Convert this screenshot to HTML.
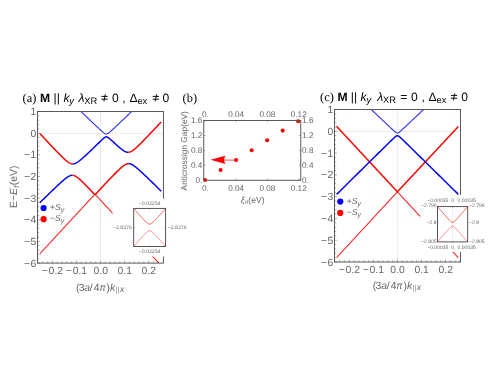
<!DOCTYPE html>
<html><head><meta charset="utf-8"><title>figure</title>
<style>html,body{margin:0;padding:0;background:#fff;}svg{display:block;will-change:transform;}text{white-space:pre;text-rendering:geometricPrecision;}</style>
</head><body>
<svg width="491" height="382" viewBox="0 0 491 382">
<rect width="491" height="382" fill="#fff"/>
<defs>
<clipPath id="clipa"><rect x="37.5" y="111.5" width="125.95" height="151.6"/></clipPath>
<clipPath id="clipc"><rect x="334.5" y="109.5" width="126" height="152.5"/></clipPath>
</defs>
<line x1="37.5" y1="133.5" x2="163.45" y2="133.5" stroke="#e2e2e2" stroke-width="0.7"/>
<line x1="100.5" y1="111.5" x2="100.5" y2="263.1" stroke="#e2e2e2" stroke-width="0.7"/>
<g clip-path="url(#clipa)">
<path d="M78.27 108.97 L78.77 109.45 L79.27 109.93 L79.77 110.4 L80.27 110.88 L80.77 111.35 L81.27 111.83 L81.77 112.31 L82.27 112.78 L82.76 113.26 L83.26 113.73 L83.76 114.21 L84.26 114.68 L84.76 115.16 L85.26 115.64 L85.76 116.11 L86.26 116.59 L86.76 117.06 L87.26 117.54 L87.76 118.01 L88.26 118.49 L88.76 118.96 L89.26 119.43 L89.76 119.91 L90.26 120.38 L90.76 120.86 L91.26 121.33 L91.76 121.8 L92.26 122.28 L92.76 122.75 L93.26 123.22 L93.76 123.7 L94.26 124.17 L94.75 124.64 L95.25 125.11 L95.75 125.58 L96.25 126.05 L96.75 126.52 L97.25 126.99 L97.75 127.46 L98.25 127.92 L98.75 128.39 L99.25 128.85 L99.75 129.31 L100.25 129.77 L100.75 130.23 L101.25 130.68 L101.75 131.12 L102.25 131.56 L102.75 131.99 L103.25 132.41 L103.75 132.81 L104.25 133.19 L104.75 133.52 L105.25 133.8 L105.75 134 L106.25 134.07 L106.74 134.02 L107.24 133.85 L107.74 133.59 L108.24 133.27 L108.74 132.9 L109.24 132.5 L109.74 132.09 L110.24 131.66 L110.74 131.22 L111.24 130.78 L111.74 130.33 L112.24 129.87 L112.74 129.41 L113.24 128.95 L113.74 128.49 L114.24 128.02 L114.74 127.56 L115.24 127.09 L115.74 126.62 L116.24 126.15 L116.74 125.68 L117.24 125.21 L117.74 124.74 L118.24 124.27 L118.73 123.8 L119.23 123.33 L119.73 122.85 L120.23 122.38 L120.73 121.91 L121.23 121.44 L121.73 120.96 L122.23 120.49 L122.73 120.01 L123.23 119.54 L123.73 119.06 L124.23 118.59 L124.73 118.11 L125.23 117.64 L125.73 117.17 L126.23 116.69 L126.73 116.21 L127.23 115.74 L127.73 115.26 L128.23 114.79 L128.73 114.31 L129.23 113.84 L129.73 113.36 L130.23 112.89 L130.73 112.41 L131.22 111.93 L131.72 111.46 L132.22 110.98 L132.72 110.51 L133.22 110.03 L133.72 109.55 L134.22 109.08 L134.72 108.6" fill="none" stroke="#0000ff" stroke-width="1.08" stroke-linejoin="round" stroke-linecap="butt" opacity="0.84"/>
<path d="M39.8 253.82 L40.3 253.28 L40.8 252.74 L41.3 252.2 L41.8 251.66 L42.3 251.12 L42.8 250.58 L43.3 250.04 L43.8 249.5 L44.3 248.96 L44.8 248.42 L45.3 247.88 L45.8 247.34 L46.29 246.8 L46.79 246.26 L47.29 245.72 L47.79 245.18 L48.29 244.64 L48.79 244.1 L49.29 243.56 L49.79 243.02 L50.29 242.49 L50.79 241.95 L51.29 241.41 L51.79 240.87 L52.29 240.33 L52.79 239.79 L53.29 239.25 L53.79 238.71 L54.29 238.17 L54.79 237.63 L55.29 237.09 L55.79 236.55 L56.29 236.01 L56.79 235.47 L57.29 234.93 L57.79 234.39 L58.28 233.85 L58.78 233.31 L59.28 232.77 L59.78 232.23 L60.28 231.69 L60.78 231.15 L61.28 230.62 L61.78 230.08 L62.28 229.54 L62.78 229 L63.28 228.46 L63.78 227.92 L64.28 227.38 L64.78 226.84 L65.28 226.3 L65.78 225.76 L66.28 225.22 L66.78 224.68 L67.28 224.14 L67.78 223.6 L68.28 223.06 L68.78 222.52 L69.28 221.98 L69.78 221.44 L70.27 220.9 L70.77 220.36 L71.27 219.82 L71.77 219.28 L72.27 218.74 L72.77 218.21 L73.27 217.67 L73.77 217.13 L74.27 216.59 L74.77 216.05 L75.27 215.51 L75.77 214.97 L76.27 214.43 L76.77 213.89 L77.27 213.35 L77.77 212.81 L78.27 212.27 L78.77 211.73 L79.27 211.19 L79.77 210.65 L80.27 210.11 L80.77 209.57 L81.27 209.03 L81.77 208.49 L82.27 207.95 L82.76 207.41 L83.26 206.87 L83.76 206.34 L84.26 205.8 L84.76 205.26 L85.26 204.72 L85.76 204.18 L86.26 203.64 L86.76 203.1 L87.26 202.56 L87.76 202.02 L88.26 201.48 L88.76 200.94 L89.26 200.4 L89.76 199.86 L90.26 199.32 L90.76 198.78 L91.26 198.24 L91.76 197.7 L92.26 197.16 L92.76 196.62 L93.26 196.08 L93.76 195.54 L94.26 195 L94.75 194.46 L95 194.2 L95.25 194.47 L95.75 195.01 L96.25 195.55 L96.75 196.09 L97.25 196.63 L97.75 197.17 L98.25 197.71 L98.75 198.25 L99.25 198.79 L99.75 199.33 L100.25 199.87 L100.75 200.41 L101.25 200.95 L101.75 201.49 L102.25 202.03 L102.75 202.57 L103.25 203.11 L103.75 203.65 L104.25 204.19 L104.75 204.73 L105.25 205.27 L105.75 205.81 L106.25 206.34 L106.74 206.88 L107.24 207.42 L107.74 207.96 L108.24 208.5 L108.74 209.04 L109.24 209.58 L109.74 210.12 L110.24 210.66 L110.74 211.2 L111.24 211.74 L111.74 212.28 L112.24 212.82 L112.74 213.36 L113.24 213.9 L113.74 214.44 L114.24 214.98 L114.74 215.52 L115.24 216.06 L115.74 216.6 L116.24 217.14 L116.74 217.68 L117.24 218.22 L117.74 218.75 L118.24 219.29 L118.73 219.83 L119.23 220.37 L119.73 220.91 L120.23 221.45 L120.73 221.99 L121.23 222.53 L121.73 223.07 L122.23 223.61 L122.73 224.15 L123.23 224.69 L123.73 225.23 L124.23 225.77 L124.73 226.31 L125.23 226.85 L125.73 227.39 L126.23 227.93 L126.73 228.47 L127.23 229.01 L127.73 229.55 L128.23 230.09 L128.73 230.62 L129.23 231.16 L129.73 231.7 L130.23 232.24 L130.73 232.78 L131.22 233.32 L131.72 233.86 L132.22 234.4 L132.72 234.94 L133.22 235.48 L133.72 236.02 L134.22 236.56 L134.72 237.1 L135.22 237.64 L135.72 238.18 L136.22 238.72 L136.72 239.26 L137.22 239.8 L137.72 240.34 L138.22 240.88 L138.72 241.42 L139.22 241.96 L139.72 242.5 L140.22 243.03 L140.72 243.57 L141.22 244.11 L141.72 244.65 L142.22 245.19 L142.72 245.73 L143.21 246.27 L143.71 246.81 L144.21 247.35 L144.71 247.89 L145.21 248.43 L145.71 248.97 L146.21 249.51 L146.71 250.05 L147.21 250.59 L147.71 251.13 L148.21 251.67 L148.71 252.21 L149.21 252.75 L149.71 253.29 L150.21 253.83 L150.71 254.37 L151.21 254.9 L151.71 255.44 L152.21 255.98 L152.71 256.52 L153.21 257.06 L153.71 257.6 L154.21 258.14 L154.71 258.68 L155.2 259.22 L155.7 259.76 L156.2 260.3 L156.7 260.84 L157.2 261.38 L157.7 261.92 L158.2 262.46 L158.7 263 L159.2 263.54 L159.7 264.08 L160.2 264.62 L160.7 265.16 L161.2 265.7" fill="none" stroke="#ff0000" stroke-width="1.05" stroke-linejoin="round" stroke-linecap="butt" opacity="0.88"/>
<path d="M39.8 202.79 L40.3 202.29 L40.8 201.8 L41.3 201.31 L41.8 200.82 L42.3 200.33 L42.8 199.84 L43.3 199.34 L43.8 198.85 L44.3 198.36 L44.8 197.87 L45.3 197.38 L45.8 196.89 L46.29 196.41 L46.79 195.92 L47.29 195.43 L47.79 194.94 L48.29 194.45 L48.79 193.97 L49.29 193.48 L49.79 193 L50.29 192.51 L50.79 192.03 L51.29 191.54 L51.79 191.06 L52.29 190.58 L52.79 190.1 L53.29 189.62 L53.79 189.14 L54.29 188.66 L54.79 188.18 L55.29 187.71 L55.79 187.23 L56.29 186.76 L56.79 186.29 L57.29 185.82 L57.79 185.35 L58.28 184.88 L58.78 184.42 L59.28 183.96 L59.78 183.5 L60.28 183.04 L60.78 182.59 L61.28 182.14 L61.78 181.69 L62.28 181.25 L62.78 180.82 L63.28 180.38 L63.78 179.96 L64.28 179.54 L64.78 179.13 L65.28 178.73 L65.78 178.34 L66.28 177.96 L66.78 177.6 L67.28 177.25 L67.78 176.92 L68.28 176.61 L68.78 176.32 L69.28 176.06 L69.78 175.83 L70.27 175.64 L70.77 175.48 L71.27 175.37 L71.77 175.29 L72.27 175.27 L72.52 175.28" fill="none" stroke="#0000ff" stroke-width="1.48" stroke-linejoin="round" stroke-linecap="butt" />
<path d="M72.52 175.28 L72.77 175.29 L73.27 175.37 L73.77 175.49 L74.27 175.65 L74.77 175.85 L75.27 176.1 L75.77 176.38 L76.27 176.68 L76.77 177.02 L77.27 177.38 L77.77 177.75 L78.27 178.15 L78.77 178.56 L79.27 178.99 L79.77 179.42 L80.27 179.87 L80.77 180.33 L81.27 180.79 L81.77 181.26 L82.27 181.74 L82.76 182.23 L83.26 182.71 L83.76 183.21 L84.26 183.7 L84.76 184.2 L85.26 184.71 L85.76 185.21 L86.26 185.72 L86.76 186.23 L87.26 186.74 L87.76 187.26 L88.26 187.78 L88.76 188.29 L89.26 188.81 L89.76 189.34 L90.26 189.86 L90.76 190.38 L91.26 190.91 L91.76 191.43 L92.26 191.96 L92.76 192.49 L93.26 193.02 L93.76 193.55 L94.26 194.08 L94.75 194.61 L95 194.2 L95.25 194.59 L95.75 194.05 L96.25 193.51 L96.75 192.97 L97.25 192.43 L97.75 191.89 L98.25 191.35 L98.75 190.81 L99.25 190.26 L99.75 189.72 L100.25 189.18 L100.75 188.64 L101.25 188.1 L101.75 187.56 L102.25 187.02 L102.75 186.48 L103.25 185.94 L103.75 185.4 L104.25 184.86 L104.75 184.32 L105.25 183.78 L105.75 183.24 L106.25 182.71 L106.74 182.17 L107.24 181.64 L107.74 181.11 L108.24 180.59 L108.74 180.06 L109.24 179.54 L109.74 179.02 L110.24 178.49 L110.74 177.97 L111.24 177.45 L111.74 176.94 L112.24 176.42 L112.74 175.91 L113.24 175.39 L113.74 174.88 L114.24 174.37 L114.74 173.87 L115.24 173.36 L115.74 172.86 L116.24 172.36 L116.74 171.87 L117.24 171.38 L117.74 170.89 L118.24 170.41 L118.73 169.93 L119.23 169.45 L119.73 168.99 L120.23 168.53 L120.73 168.08 L121.23 167.64 L121.73 167.21 L122.23 166.79 L122.73 166.38 L123.23 165.99 L123.73 165.62 L124.23 165.27 L124.73 164.94 L125.23 164.65 L125.73 164.38 L126.23 164.14 L126.73 163.95 L127.23 163.8 L127.73 163.69 L128.23 163.62 L128.4 163.61" fill="none" stroke="#ff0000" stroke-width="1.48" stroke-linejoin="round" stroke-linecap="butt" />
<path d="M128.4 163.61 L128.73 163.61 L129.23 163.64 L129.73 163.72 L130.23 163.85 L130.73 164.01 L131.22 164.21 L131.72 164.45 L132.22 164.71 L132.72 165 L133.22 165.31 L133.72 165.65 L134.22 166 L134.72 166.37 L135.22 166.75 L135.72 167.14 L136.22 167.54 L136.72 167.95 L137.22 168.37 L137.72 168.79 L138.22 169.22 L138.72 169.66 L139.22 170.1 L139.72 170.55 L140.22 171 L140.72 171.45 L141.22 171.91 L141.72 172.36 L142.22 172.83 L142.72 173.29 L143.21 173.76 L143.71 174.23 L144.21 174.7 L144.71 175.17 L145.21 175.64 L145.71 176.11 L146.21 176.59 L146.71 177.07 L147.21 177.55 L147.71 178.03 L148.21 178.51 L148.71 178.99 L149.21 179.47 L149.71 179.95 L150.21 180.43 L150.71 180.92 L151.21 181.4 L151.71 181.89 L152.21 182.38 L152.71 182.86 L153.21 183.35 L153.71 183.84 L154.21 184.32 L154.71 184.81 L155.2 185.3 L155.7 185.79 L156.2 186.28 L156.7 186.77 L157.2 187.26 L157.7 187.75 L158.2 188.24 L158.7 188.73 L159.2 189.22 L159.7 189.71 L160.2 190.21 L160.7 190.7 L161.2 191.19" fill="none" stroke="#0000ff" stroke-width="1.48" stroke-linejoin="round" stroke-linecap="butt" />
<path d="M39.8 133.4 L40.3 133.94 L40.8 134.48 L41.3 135.02 L41.8 135.56 L42.3 136.1 L42.8 136.63 L43.3 137.17 L43.8 137.71 L44.3 138.25 L44.8 138.78 L45.3 139.32 L45.8 139.85 L46.29 140.39 L46.79 140.92 L47.29 141.46 L47.79 141.99 L48.29 142.53 L48.79 143.06 L49.29 143.59 L49.79 144.13 L50.29 144.66 L50.79 145.19 L51.29 145.72 L51.79 146.25 L52.29 146.78 L52.79 147.3 L53.29 147.83 L53.79 148.36 L54.29 148.88 L54.79 149.41 L55.29 149.93 L55.79 150.45 L56.29 150.97 L56.79 151.49 L57.29 152.01 L57.79 152.52 L58.28 153.03 L58.78 153.55 L59.28 154.05 L59.78 154.56 L60.28 155.06 L60.78 155.56 L61.28 156.06 L61.78 156.55 L62.28 157.04 L62.78 157.52 L63.28 158 L63.78 158.47 L64.28 158.94 L64.78 159.39 L65.28 159.84 L65.78 160.28 L66.28 160.7 L66.78 161.11 L67.28 161.51 L67.78 161.89 L68.28 162.24 L68.78 162.58 L69.28 162.88 L69.78 163.16 L70.27 163.4 L70.77 163.61 L71.27 163.77 L71.77 163.89 L72.27 163.96 L72.52 163.98" fill="none" stroke="#ff0000" stroke-width="1.48" stroke-linejoin="round" stroke-linecap="butt" />
<path d="M72.52 163.98 L72.77 163.98 L73.27 163.96 L73.77 163.89 L74.27 163.77 L74.77 163.61 L75.27 163.42 L75.77 163.19 L76.27 162.92 L76.77 162.64 L77.27 162.33 L77.77 162 L78.27 161.65 L78.77 161.28 L79.27 160.9 L79.77 160.52 L80.27 160.12 L80.77 159.71 L81.27 159.29 L81.77 158.87 L82.27 158.44 L82.76 158 L83.26 157.56 L83.76 157.12 L84.26 156.67 L84.76 156.21 L85.26 155.76 L85.76 155.3 L86.26 154.84 L86.76 154.38 L87.26 153.91 L87.76 153.45 L88.26 152.98 L88.76 152.51 L89.26 152.04 L89.76 151.57 L90.26 151.09 L90.76 150.62 L91.26 150.14 L91.76 149.67 L92.26 149.19 L92.76 148.71 L93.26 148.23 L93.76 147.75 L94.26 147.28 L94.75 146.8 L95.25 146.31 L95.75 145.82 L96.25 145.32 L96.75 144.83 L97.25 144.34 L97.75 143.85 L98.25 143.36 L98.75 142.87 L99.25 142.38 L99.75 141.9 L100.25 141.41 L100.75 140.93 L101.25 140.46 L101.75 139.99 L102.25 139.52 L102.75 139.07 L103.25 138.62 L103.75 138.19 L104.25 137.79 L104.75 137.43 L105.25 137.13 L105.75 136.91 L106.25 136.82 L106.74 136.87 L107.24 137.04 L107.74 137.31 L108.24 137.64 L108.74 138.02 L109.24 138.42 L109.74 138.84 L110.24 139.27 L110.74 139.71 L111.24 140.16 L111.74 140.61 L112.24 141.06 L112.74 141.51 L113.24 141.97 L113.74 142.42 L114.24 142.88 L114.74 143.33 L115.24 143.78 L115.74 144.23 L116.24 144.68 L116.74 145.13 L117.24 145.57 L117.74 146.01 L118.24 146.44 L118.73 146.87 L119.23 147.3 L119.73 147.72 L120.23 148.13 L120.73 148.54 L121.23 148.93 L121.73 149.32 L122.23 149.69 L122.73 150.05 L123.23 150.4 L123.73 150.72 L124.23 151.03 L124.73 151.31 L125.23 151.56 L125.73 151.79 L126.23 151.98 L126.73 152.13 L127.23 152.24 L127.73 152.3 L128.23 152.32 L128.4 152.31" fill="none" stroke="#0000ff" stroke-width="1.48" stroke-linejoin="round" stroke-linecap="butt" />
<path d="M128.4 152.31 L128.73 152.29 L129.23 152.21 L129.73 152.09 L130.23 151.92 L130.73 151.71 L131.22 151.47 L131.72 151.19 L132.22 150.88 L132.72 150.55 L133.22 150.19 L133.72 149.81 L134.22 149.42 L134.72 149.01 L135.22 148.59 L135.72 148.15 L136.22 147.71 L136.72 147.25 L137.22 146.79 L137.72 146.33 L138.22 145.85 L138.72 145.37 L139.22 144.89 L139.72 144.4 L140.22 143.9 L140.72 143.41 L141.22 142.91 L141.72 142.41 L142.22 141.9 L142.72 141.39 L143.21 140.89 L143.71 140.37 L144.21 139.86 L144.71 139.35 L145.21 138.83 L145.71 138.31 L146.21 137.79 L146.71 137.27 L147.21 136.75 L147.71 136.23 L148.21 135.71 L148.71 135.18 L149.21 134.66 L149.71 134.13 L150.21 133.61 L150.71 133.08 L151.21 132.55 L151.71 132.02 L152.21 131.49 L152.71 130.97 L153.21 130.44 L153.71 129.91 L154.21 129.37 L154.71 128.84 L155.2 128.31 L155.7 127.78 L156.2 127.25 L156.7 126.72 L157.2 126.18 L157.7 125.65 L158.2 125.12 L158.7 124.58 L159.2 124.05 L159.7 123.51 L160.2 122.98 L160.7 122.44 L161.2 121.91" fill="none" stroke="#ff0000" stroke-width="1.48" stroke-linejoin="round" stroke-linecap="butt" />
</g>
<rect x="37.5" y="111.5" width="125.95" height="151.6" fill="none" stroke="#585858" stroke-width="1.0"/>
<path d="M37.5 111.5h2.5M37.5 115.83h1.7M37.5 120.16h1.7M37.5 124.49h1.7M37.5 128.83h1.7M37.5 133.16h2.5M37.5 137.49h1.7M37.5 141.82h1.7M37.5 146.15h1.7M37.5 150.48h1.7M37.5 154.81h2.5M37.5 159.15h1.7M37.5 163.48h1.7M37.5 167.81h1.7M37.5 172.14h1.7M37.5 176.47h2.5M37.5 180.8h1.7M37.5 185.13h1.7M37.5 189.47h1.7M37.5 193.8h1.7M37.5 198.13h2.5M37.5 202.46h1.7M37.5 206.79h1.7M37.5 211.12h1.7M37.5 215.45h1.7M37.5 219.79h2.5M37.5 224.12h1.7M37.5 228.45h1.7M37.5 232.78h1.7M37.5 237.11h1.7M37.5 241.44h2.5M37.5 245.77h1.7M37.5 250.11h1.7M37.5 254.44h1.7M37.5 258.77h1.7M37.5 263.1h2.5M42.78 263.1v-1.7M47.59 263.1v-1.7M52.4 263.1v-2.5M57.21 263.1v-1.7M62.02 263.1v-1.7M66.83 263.1v-1.7M71.64 263.1v-1.7M76.45 263.1v-2.5M81.26 263.1v-1.7M86.07 263.1v-1.7M90.88 263.1v-1.7M95.69 263.1v-1.7M100.5 263.1v-2.5M105.31 263.1v-1.7M110.12 263.1v-1.7M114.93 263.1v-1.7M119.74 263.1v-1.7M124.55 263.1v-2.5M129.36 263.1v-1.7M134.17 263.1v-1.7M138.98 263.1v-1.7M143.79 263.1v-1.7M148.6 263.1v-2.5M153.41 263.1v-1.7M158.22 263.1v-1.7" stroke="#585858" stroke-width="0.5" fill="none"/>
<text x="36.2" y="115.1" font-size="10.4" text-anchor="end" fill="#666" font-family='"Liberation Sans", sans-serif' >1</text>
<text x="36.2" y="136.76" font-size="10.4" text-anchor="end" fill="#666" font-family='"Liberation Sans", sans-serif' >0</text>
<text x="36.2" y="158.41" font-size="10.4" text-anchor="end" fill="#666" font-family='"Liberation Sans", sans-serif' ><tspan letter-spacing="0.3">−</tspan>1</text>
<text x="36.2" y="180.07" font-size="10.4" text-anchor="end" fill="#666" font-family='"Liberation Sans", sans-serif' ><tspan letter-spacing="0.3">−</tspan>2</text>
<text x="36.2" y="201.73" font-size="10.4" text-anchor="end" fill="#666" font-family='"Liberation Sans", sans-serif' ><tspan letter-spacing="0.3">−</tspan>3</text>
<text x="36.2" y="223.39" font-size="10.4" text-anchor="end" fill="#666" font-family='"Liberation Sans", sans-serif' ><tspan letter-spacing="0.3">−</tspan>4</text>
<text x="36.2" y="245.04" font-size="10.4" text-anchor="end" fill="#666" font-family='"Liberation Sans", sans-serif' ><tspan letter-spacing="0.3">−</tspan>5</text>
<text x="36.2" y="266.7" font-size="10.4" text-anchor="end" fill="#666" font-family='"Liberation Sans", sans-serif' ><tspan letter-spacing="0.3">−</tspan>6</text>
<text x="52.4" y="274" font-size="10.4" text-anchor="middle" fill="#666" font-family='"Liberation Sans", sans-serif' ><tspan letter-spacing="0.8">−</tspan>0.2</text>
<text x="76.45" y="274" font-size="10.4" text-anchor="middle" fill="#666" font-family='"Liberation Sans", sans-serif' ><tspan letter-spacing="0.8">−</tspan>0.1</text>
<text x="100.7" y="274" font-size="10.4" text-anchor="middle" fill="#666" font-family='"Liberation Sans", sans-serif' >0.0</text>
<text x="124.75" y="274" font-size="10.4" text-anchor="middle" fill="#666" font-family='"Liberation Sans", sans-serif' >0.1</text>
<text x="148.8" y="274" font-size="10.4" text-anchor="middle" fill="#666" font-family='"Liberation Sans", sans-serif' >0.2</text>
<text x="75.9" y="291" font-size="10.4" text-anchor="start" fill="#666" font-family='"Liberation Sans", sans-serif' >(</text>
<text x="78.7" y="291" font-size="10.4" text-anchor="start" fill="#666" font-family='"Liberation Sans", sans-serif' >3</text>
<text x="84.25" y="291" font-size="10.4" text-anchor="start" fill="#666" font-family='"Liberation Sans", sans-serif' font-style="italic">a</text>
<text x="89.8" y="291" font-size="10.4" text-anchor="start" fill="#666" font-family='"Liberation Sans", sans-serif' >/</text>
<text x="93.8" y="291" font-size="10.4" text-anchor="start" fill="#666" font-family='"Liberation Sans", sans-serif' >4</text>
<text x="99.4" y="291" font-size="10.4" text-anchor="start" fill="#666" font-family='"Liberation Sans", sans-serif' font-style="italic" textLength="6.3" lengthAdjust="spacingAndGlyphs">π</text>
<text x="106.5" y="291" font-size="10.4" text-anchor="start" fill="#666" font-family='"Liberation Sans", sans-serif' >)</text>
<text x="110.1" y="291" font-size="10.4" text-anchor="start" fill="#666" font-family='"Liberation Sans", sans-serif' font-style="italic">k</text>
<text x="115.5" y="291.9" font-size="7.4" text-anchor="start" fill="#888" font-family='"Liberation Sans", sans-serif' >|</text>
<text x="117.5" y="291.9" font-size="7.4" text-anchor="start" fill="#888" font-family='"Liberation Sans", sans-serif' >|</text>
<text x="119.9" y="291.9" font-size="8.6" text-anchor="start" fill="#666" font-family='"Liberation Sans", sans-serif' font-style="italic">x</text>
<circle cx="43.6" cy="208" r="3.1" fill="#0000ff"/>
<circle cx="43.6" cy="219.2" r="3.1" fill="#ff0000"/>
<text x="50" y="210" font-size="8.6" fill="#666" font-family='"Liberation Sans", sans-serif'>+<tspan font-style="italic">S</tspan><tspan font-style="italic" font-size="6.9" dy="1.9">y</tspan></text>
<text x="50" y="221.2" font-size="8.6" fill="#666" font-family='"Liberation Sans", sans-serif'>−<tspan font-style="italic">S</tspan><tspan font-style="italic" font-size="6.9" dy="1.9">y</tspan></text>
<text transform="translate(17.3 208.0) rotate(-90)" font-size="10.4" fill="#666" font-family='"Liberation Sans", sans-serif'>E−<tspan font-style="italic">E</tspan><tspan font-style="italic" font-size="7.6" dy="1.6" dx="0.3">f</tspan><tspan dy="-1.6" dx="0.4">(eV)</tspan></text>
<rect x="112.6" y="198.8" width="77.4" height="57.7" fill="#fff"/>
<path d="M133.7 208.4 L134.1 208.86 L134.5 209.32 L134.9 209.78 L135.29 210.24 L135.69 210.7 L136.09 211.16 L136.49 211.62 L136.89 212.08 L137.29 212.54 L137.69 212.99 L138.09 213.45 L138.48 213.9 L138.88 214.36 L139.28 214.81 L139.68 215.26 L140.08 215.71 L140.48 216.16 L140.88 216.61 L141.28 217.05 L141.67 217.49 L142.07 217.93 L142.47 218.37 L142.87 218.8 L143.27 219.23 L143.67 219.66 L144.07 220.08 L144.47 220.5 L144.86 220.9 L145.26 221.3 L145.66 221.69 L146.06 222.06 L146.46 222.42 L146.86 222.76 L147.26 223.08 L147.66 223.36 L148.05 223.61 L148.45 223.82 L148.85 223.97 L149.25 224.07 L149.65 224.1 L150.05 224.07 L150.45 223.97 L150.85 223.82 L151.25 223.61 L151.64 223.36 L152.04 223.08 L152.44 222.76 L152.84 222.42 L153.24 222.06 L153.64 221.69 L154.04 221.3 L154.44 220.9 L154.83 220.5 L155.23 220.08 L155.63 219.66 L156.03 219.23 L156.43 218.8 L156.83 218.37 L157.23 217.93 L157.62 217.49 L158.02 217.05 L158.42 216.61 L158.82 216.16 L159.22 215.71 L159.62 215.26 L160.02 214.81 L160.42 214.36 L160.81 213.9 L161.21 213.45 L161.61 212.99 L162.01 212.54 L162.41 212.08 L162.81 211.62 L163.21 211.16 L163.61 210.7 L164 210.24 L164.4 209.78 L164.8 209.32 L165.2 208.86 L165.6 208.4" fill="none" stroke="#ff0000" stroke-width="0.85" stroke-linejoin="round" stroke-linecap="butt" opacity="0.8"/>
<path d="M133.7 246.5 L134.1 246.04 L134.5 245.58 L134.9 245.12 L135.29 244.66 L135.69 244.2 L136.09 243.74 L136.49 243.28 L136.89 242.82 L137.29 242.36 L137.69 241.91 L138.09 241.45 L138.48 241 L138.88 240.54 L139.28 240.09 L139.68 239.64 L140.08 239.19 L140.48 238.74 L140.88 238.29 L141.28 237.85 L141.67 237.41 L142.07 236.97 L142.47 236.53 L142.87 236.1 L143.27 235.67 L143.67 235.24 L144.07 234.82 L144.47 234.4 L144.86 234 L145.26 233.6 L145.66 233.21 L146.06 232.84 L146.46 232.48 L146.86 232.14 L147.26 231.82 L147.66 231.54 L148.05 231.29 L148.45 231.08 L148.85 230.93 L149.25 230.83 L149.65 230.8 L150.05 230.83 L150.45 230.93 L150.85 231.08 L151.25 231.29 L151.64 231.54 L152.04 231.82 L152.44 232.14 L152.84 232.48 L153.24 232.84 L153.64 233.21 L154.04 233.6 L154.44 234 L154.83 234.4 L155.23 234.82 L155.63 235.24 L156.03 235.67 L156.43 236.1 L156.83 236.53 L157.23 236.97 L157.62 237.41 L158.02 237.85 L158.42 238.29 L158.82 238.74 L159.22 239.19 L159.62 239.64 L160.02 240.09 L160.42 240.54 L160.81 241 L161.21 241.45 L161.61 241.91 L162.01 242.36 L162.41 242.82 L162.81 243.28 L163.21 243.74 L163.61 244.2 L164 244.66 L164.4 245.12 L164.8 245.58 L165.2 246.04 L165.6 246.5" fill="none" stroke="#ff0000" stroke-width="0.75" stroke-linejoin="round" stroke-linecap="butt" opacity="0.6"/>
<rect x="133.7" y="208.4" width="31.9" height="38.1" fill="none" stroke="#444" stroke-width="0.9"/>
<text x="149.6" y="205" font-size="5.2" text-anchor="middle" fill="#666" font-family='"Liberation Sans", sans-serif' >−0.02254</text>
<text x="149.6" y="253.1" font-size="5.2" text-anchor="middle" fill="#666" font-family='"Liberation Sans", sans-serif' >−0.02254</text>
<text x="131.9" y="228.8" font-size="5.2" text-anchor="end" fill="#666" font-family='"Liberation Sans", sans-serif' >−2.8276</text>
<text x="167.7" y="228.8" font-size="5.2" text-anchor="start" fill="#666" font-family='"Liberation Sans", sans-serif' >−2.8276</text>
<path d="M149.6 208.4l0 1M149.6 246.5l0 -1M133.7 227.45l1 0M165.6 227.45l-1 0" stroke="#444" stroke-width="0.5" fill="none"/>
<text x="22.6" y="102.3" font-size="12.4" text-anchor="start" fill="#000" font-family='"Liberation Serif", serif' >(a)</text>
<text x="40" y="102.3" font-size="12.1" text-anchor="start" fill="#000" font-family='"Liberation Sans", sans-serif' font-weight="bold">M</text>
<text x="53.6" y="102.3" font-size="12.1" text-anchor="start" fill="#000" font-family='"Liberation Sans", sans-serif' >||</text>
<text x="63.4" y="102.3" font-size="12.1" text-anchor="start" fill="#000" font-family='"Liberation Sans", sans-serif' font-style="italic">k</text>
<text x="69.2" y="103.9" font-size="9.317" text-anchor="start" fill="#000" font-family='"Liberation Sans", sans-serif' font-style="italic">y</text>
<text x="78.4" y="102.3" font-size="12.1" text-anchor="start" fill="#000" font-family='"Liberation Sans", sans-serif' font-style="italic">λ</text>
<text x="84.2" y="103.9" font-size="9.317" text-anchor="start" fill="#000" font-family='"Liberation Sans", sans-serif' >XR</text>
<path d="M101.4 96.4h6.3M101.4 99.2h6.3M105.3 94.3L103.9 101.3" stroke="#000" stroke-width="0.95" fill="none"/>
<text x="112" y="102.3" font-size="12.1" text-anchor="start" fill="#000" font-family='"Liberation Sans", sans-serif' >0</text>
<text x="122.2" y="102.3" font-size="12.1" text-anchor="start" fill="#000" font-family='"Liberation Sans", sans-serif' >,</text>
<text x="129.6" y="102.3" font-size="12.1" text-anchor="start" fill="#000" font-family='"Liberation Sans", sans-serif' >Δ</text>
<text x="137.4" y="103.9" font-size="9.317" text-anchor="start" fill="#000" font-family='"Liberation Sans", sans-serif' >ex</text>
<path d="M152.7 96.4h6.3M152.7 99.2h6.3M156.6 94.3L155.2 101.3" stroke="#000" stroke-width="0.95" fill="none"/>
<text x="162.6" y="102.3" font-size="12.1" text-anchor="start" fill="#000" font-family='"Liberation Sans", sans-serif' >0</text>
<line x1="334.5" y1="131.5" x2="460.5" y2="131.5" stroke="#e2e2e2" stroke-width="0.7"/>
<line x1="397.4" y1="109.5" x2="397.4" y2="262" stroke="#e2e2e2" stroke-width="0.7"/>
<g clip-path="url(#clipc)">
<path d="M368.15 106.53 L368.65 107.01 L369.15 107.48 L369.65 107.96 L370.16 108.43 L370.66 108.91 L371.16 109.39 L371.66 109.86 L372.16 110.34 L372.66 110.81 L373.16 111.29 L373.66 111.76 L374.16 112.24 L374.66 112.71 L375.16 113.19 L375.66 113.66 L376.17 114.13 L376.67 114.61 L377.17 115.08 L377.67 115.56 L378.17 116.03 L378.67 116.51 L379.17 116.98 L379.67 117.46 L380.17 117.93 L380.67 118.41 L381.17 118.88 L381.67 119.35 L382.17 119.83 L382.68 120.3 L383.18 120.78 L383.68 121.25 L384.18 121.72 L384.68 122.2 L385.18 122.67 L385.68 123.14 L386.18 123.61 L386.68 124.09 L387.18 124.56 L387.68 125.03 L388.18 125.5 L388.69 125.97 L389.19 126.44 L389.69 126.91 L390.19 127.38 L390.69 127.84 L391.19 128.31 L391.69 128.77 L392.19 129.23 L392.69 129.69 L393.19 130.15 L393.69 130.6 L394.19 131.04 L394.7 131.47 L395.2 131.89 L395.7 132.27 L396.2 132.62 L396.7 132.89 L397.2 133.04 L397.7 133.02 L398.2 132.84 L398.7 132.56 L399.2 132.2 L399.7 131.8 L400.2 131.39 L400.71 130.95 L401.21 130.51 L401.71 130.06 L402.21 129.6 L402.71 129.14 L403.21 128.68 L403.71 128.22 L404.21 127.75 L404.71 127.28 L405.21 126.81 L405.71 126.35 L406.21 125.88 L406.72 125.41 L407.22 124.93 L407.72 124.46 L408.22 123.99 L408.72 123.52 L409.22 123.05 L409.72 122.57 L410.22 122.1 L410.72 121.63 L411.22 121.15 L411.72 120.68 L412.22 120.21 L412.73 119.73 L413.23 119.26 L413.73 118.79 L414.23 118.31 L414.73 117.84 L415.23 117.36 L415.73 116.89 L416.23 116.41 L416.73 115.94 L417.23 115.46 L417.73 114.99 L418.23 114.51 L418.73 114.04 L419.24 113.57 L419.74 113.09 L420.24 112.62 L420.74 112.14 L421.24 111.67 L421.74 111.19 L422.24 110.72 L422.74 110.24 L423.24 109.77 L423.74 109.29 L424.24 108.82 L424.74 108.34 L425.25 107.86 L425.75 107.39 L426.25 106.91" fill="none" stroke="#0000ff" stroke-width="1.08" stroke-linejoin="round" stroke-linecap="butt" opacity="0.84"/>
<path d="M336.6 257.59 L337.1 257.04 L337.6 256.5 L338.1 255.96 L338.6 255.42 L339.1 254.88 L339.6 254.33 L340.11 253.79 L340.61 253.25 L341.11 252.71 L341.61 252.17 L342.11 251.62 L342.61 251.08 L343.11 250.54 L343.61 250 L344.11 249.46 L344.61 248.92 L345.11 248.37 L345.61 247.83 L346.12 247.29 L346.62 246.75 L347.12 246.21 L347.62 245.66 L348.12 245.12 L348.62 244.58 L349.12 244.04 L349.62 243.5 L350.12 242.95 L350.62 242.41 L351.12 241.87 L351.62 241.33 L352.13 240.79 L352.63 240.25 L353.13 239.7 L353.63 239.16 L354.13 238.62 L354.63 238.08 L355.13 237.54 L355.63 236.99 L356.13 236.45 L356.63 235.91 L357.13 235.37 L357.63 234.83 L358.14 234.28 L358.64 233.74 L359.14 233.2 L359.64 232.66 L360.14 232.12 L360.64 231.57 L361.14 231.03 L361.64 230.49 L362.14 229.95 L362.64 229.41 L363.14 228.87 L363.64 228.32 L364.15 227.78 L364.65 227.24 L365.15 226.7 L365.65 226.16 L366.15 225.61 L366.65 225.07 L367.15 224.53 L367.65 223.99 L368.15 223.45 L368.65 222.9 L369.15 222.36 L369.65 221.82 L370.16 221.28 L370.66 220.74 L371.16 220.2 L371.66 219.65 L372.16 219.11 L372.66 218.57 L373.16 218.03 L373.66 217.49 L374.16 216.94 L374.66 216.4 L375.16 215.86 L375.66 215.32 L376.17 214.78 L376.67 214.23 L377.17 213.69 L377.67 213.15 L378.17 212.61 L378.67 212.07 L379.17 211.52 L379.67 210.98 L380.17 210.44 L380.67 209.9 L381.17 209.36 L381.67 208.82 L382.17 208.27 L382.68 207.73 L383.18 207.19 L383.68 206.65 L384.18 206.11 L384.68 205.56 L385.18 205.02 L385.68 204.48 L386.18 203.94 L386.68 203.4 L387.18 202.85 L387.68 202.31 L388.18 201.77 L388.69 201.23 L389.19 200.69 L389.69 200.15 L390.19 199.6 L390.69 199.06 L391.19 198.52 L391.69 197.98 L392.19 197.44 L392.69 196.89 L393.19 196.35 L393.69 195.81 L394.19 195.27 L394.7 194.73 L395.2 194.18 L395.7 193.64 L396.2 193.1 L396.7 192.56 L397.2 192.02 L397.4 191.8 L397.7 192.13 L398.2 192.67 L398.7 193.21 L399.2 193.75 L399.7 194.29 L400.2 194.83 L400.71 195.38 L401.21 195.92 L401.71 196.46 L402.21 197 L402.71 197.54 L403.21 198.09 L403.71 198.63 L404.21 199.17 L404.71 199.71 L405.21 200.25 L405.71 200.8 L406.21 201.34 L406.72 201.88 L407.22 202.42 L407.72 202.96 L408.22 203.5 L408.72 204.05 L409.22 204.59 L409.72 205.13 L410.22 205.67 L410.72 206.21 L411.22 206.76 L411.72 207.3 L412.22 207.84 L412.73 208.38 L413.23 208.92 L413.73 209.47 L414.23 210.01 L414.73 210.55 L415.23 211.09 L415.73 211.63 L416.23 212.17 L416.73 212.72 L417.23 213.26 L417.73 213.8 L418.23 214.34 L418.73 214.88 L419.24 215.43 L419.74 215.97 L420.24 216.51 L420.74 217.05 L421.24 217.59 L421.74 218.14 L422.24 218.68 L422.74 219.22 L423.24 219.76 L423.74 220.3 L424.24 220.85 L424.74 221.39 L425.25 221.93 L425.75 222.47 L426.25 223.01 L426.75 223.55 L427.25 224.1 L427.75 224.64 L428.25 225.18 L428.75 225.72 L429.25 226.26 L429.75 226.81 L430.25 227.35 L430.75 227.89 L431.26 228.43 L431.76 228.97 L432.26 229.52 L432.76 230.06 L433.26 230.6 L433.76 231.14 L434.26 231.68 L434.76 232.22 L435.26 232.77 L435.76 233.31 L436.26 233.85 L436.76 234.39 L437.27 234.93 L437.77 235.48 L438.27 236.02 L438.77 236.56 L439.27 237.1 L439.77 237.64 L440.27 238.19 L440.77 238.73 L441.27 239.27 L441.77 239.81 L442.27 240.35 L442.77 240.9 L443.28 241.44 L443.78 241.98 L444.28 242.52 L444.78 243.06 L445.28 243.6 L445.78 244.15 L446.28 244.69 L446.78 245.23 L447.28 245.77 L447.78 246.31 L448.28 246.86 L448.78 247.4 L449.29 247.94 L449.79 248.48 L450.29 249.02 L450.79 249.57 L451.29 250.11 L451.79 250.65 L452.29 251.19 L452.79 251.73 L453.29 252.27 L453.79 252.82 L454.29 253.36 L454.79 253.9 L455.3 254.44 L455.8 254.98 L456.3 255.53 L456.8 256.07 L457.3 256.61 L457.8 257.15 L458.3 257.69" fill="none" stroke="#ff0000" stroke-width="1.05" stroke-linejoin="round" stroke-linecap="butt" opacity="0.88"/>
<path d="M336.6 126.32 L337.1 126.86 L337.6 127.4 L338.1 127.94 L338.6 128.48 L339.1 129.02 L339.6 129.55 L340.11 130.09 L340.61 130.63 L341.11 131.17 L341.61 131.71 L342.11 132.25 L342.61 132.79 L343.11 133.33 L343.61 133.87 L344.11 134.41 L344.61 134.95 L345.11 135.49 L345.61 136.03 L346.12 136.57 L346.62 137.11 L347.12 137.65 L347.62 138.18 L348.12 138.72 L348.62 139.26 L349.12 139.8 L349.62 140.34 L350.12 140.88 L350.62 141.42 L351.12 141.96 L351.62 142.5 L352.13 143.04 L352.63 143.58 L353.13 144.12 L353.63 144.66 L354.13 145.2 L354.63 145.74 L355.13 146.28 L355.63 146.82 L356.13 147.35 L356.63 147.89 L357.13 148.43 L357.63 148.97 L358.14 149.51 L358.64 150.05 L359.14 150.59 L359.64 151.13 L360.14 151.67 L360.64 152.21 L361.14 152.75 L361.64 153.29 L362.14 153.83 L362.64 154.37 L363.14 154.91 L363.64 155.45 L364.15 155.98 L364.65 156.52 L365.15 157.06 L365.65 157.6 L366.15 158.14 L366.65 158.68 L367.15 159.22 L367.65 159.76 L368.15 160.3 L368.65 160.84 L369.15 161.38 L369.65 161.92 L370.16 162.46 L370.66 163 L371.16 163.54 L371.66 164.08 L372.16 164.61 L372.66 165.15 L373.16 165.69 L373.66 166.23 L374.16 166.77 L374.66 167.31 L375.16 167.85 L375.66 168.39 L376.17 168.93 L376.67 169.47 L377.17 170.01 L377.67 170.55 L378.17 171.09 L378.67 171.63 L379.17 172.17 L379.67 172.71 L380.17 173.25 L380.67 173.78 L381.17 174.32 L381.67 174.86 L382.17 175.4 L382.68 175.94 L383.18 176.48 L383.68 177.02 L384.18 177.56 L384.68 178.1 L385.18 178.64 L385.68 179.18 L386.18 179.72 L386.68 180.26 L387.18 180.8 L387.68 181.34 L388.18 181.88 L388.69 182.41 L389.19 182.95 L389.69 183.49 L390.19 184.03 L390.69 184.57 L391.19 185.11 L391.69 185.65 L392.19 186.19 L392.69 186.73 L393.19 187.27 L393.69 187.81 L394.19 188.35 L394.7 188.89 L395.2 189.43 L395.7 189.97 L396.2 190.51 L396.7 191.04 L397.2 191.58 L397.4 191.8 L397.7 191.48 L398.2 190.94 L398.7 190.41 L399.2 189.87 L399.7 189.33 L400.2 188.8 L400.71 188.26 L401.21 187.72 L401.71 187.19 L402.21 186.65 L402.71 186.11 L403.21 185.58 L403.71 185.04 L404.21 184.51 L404.71 183.97 L405.21 183.43 L405.71 182.9 L406.21 182.36 L406.72 181.82 L407.22 181.29 L407.72 180.75 L408.22 180.21 L408.72 179.68 L409.22 179.14 L409.72 178.61 L410.22 178.07 L410.72 177.53 L411.22 177 L411.72 176.46 L412.22 175.92 L412.73 175.39 L413.23 174.85 L413.73 174.31 L414.23 173.78 L414.73 173.24 L415.23 172.7 L415.73 172.17 L416.23 171.63 L416.73 171.1 L417.23 170.56 L417.73 170.02 L418.23 169.49 L418.73 168.95 L419.24 168.41 L419.74 167.88 L420.24 167.34 L420.74 166.8 L421.24 166.27 L421.74 165.73 L422.24 165.2 L422.74 164.66 L423.24 164.12 L423.74 163.59 L424.24 163.05 L424.74 162.51 L425.25 161.98 L425.75 161.44 L426.25 160.9 L426.75 160.37 L427.25 159.83 L427.75 159.3 L428.25 158.76 L428.75 158.22 L429.25 157.69 L429.75 157.15 L430.25 156.61 L430.75 156.08 L431.26 155.54 L431.76 155 L432.26 154.47 L432.76 153.93 L433.26 153.4 L433.76 152.86 L434.26 152.32 L434.76 151.79 L435.26 151.25 L435.76 150.71 L436.26 150.18 L436.76 149.64 L437.27 149.1 L437.77 148.57 L438.27 148.03 L438.77 147.49 L439.27 146.96 L439.77 146.42 L440.27 145.89 L440.77 145.35 L441.27 144.81 L441.77 144.28 L442.27 143.74 L442.77 143.2 L443.28 142.67 L443.78 142.13 L444.28 141.59 L444.78 141.06 L445.28 140.52 L445.78 139.99 L446.28 139.45 L446.78 138.91 L447.28 138.38 L447.78 137.84 L448.28 137.3 L448.78 136.77 L449.29 136.23 L449.79 135.69 L450.29 135.16 L450.79 134.62 L451.29 134.09 L451.79 133.55 L452.29 133.01 L452.79 132.48 L453.29 131.94 L453.79 131.4 L454.29 130.87 L454.79 130.33 L455.3 129.79 L455.8 129.26 L456.3 128.72 L456.8 128.19 L457.3 127.65 L457.8 127.11 L458.3 126.58" fill="none" stroke="#ff0000" stroke-width="1.48" stroke-linejoin="round" stroke-linecap="butt" />
<path d="M336.6 194.37 L337.1 193.88 L337.6 193.39 L338.1 192.89 L338.6 192.4 L339.1 191.9 L339.6 191.41 L340.11 190.91 L340.61 190.42 L341.11 189.93 L341.61 189.43 L342.11 188.94 L342.61 188.44 L343.11 187.95 L343.61 187.46 L344.11 186.96 L344.61 186.47 L345.11 185.97 L345.61 185.48 L346.12 184.98 L346.62 184.49 L347.12 184 L347.62 183.5 L348.12 183.01 L348.62 182.51 L349.12 182.02 L349.62 181.53 L350.12 181.03 L350.62 180.54 L351.12 180.04 L351.62 179.55 L352.13 179.05 L352.63 178.56 L353.13 178.07 L353.63 177.57 L354.13 177.08 L354.63 176.58 L355.13 176.09 L355.63 175.6 L356.13 175.1 L356.63 174.61 L357.13 174.11 L357.63 173.62 L358.14 173.13 L358.64 172.63 L359.14 172.14 L359.64 171.64 L360.14 171.15 L360.64 170.66 L361.14 170.16 L361.64 169.67 L362.14 169.17 L362.64 168.68 L363.14 168.19 L363.64 167.69 L364.15 167.2 L364.65 166.7 L365.15 166.21 L365.65 165.72 L366.15 165.22 L366.65 164.73 L367.15 164.23 L367.65 163.74 L368.15 163.25 L368.65 162.75 L369.15 162.26 L369.65 161.77 L370.16 161.27 L370.66 160.78 L371.16 160.28 L371.66 159.79 L372.16 159.3 L372.66 158.8 L373.16 158.31 L373.66 157.82 L374.16 157.32 L374.66 156.83 L375.16 156.34 L375.66 155.84 L376.17 155.35 L376.67 154.86 L377.17 154.36 L377.67 153.87 L378.17 153.38 L378.67 152.88 L379.17 152.39 L379.67 151.9 L380.17 151.4 L380.67 150.91 L381.17 150.42 L381.67 149.93 L382.17 149.43 L382.68 148.94 L383.18 148.45 L383.68 147.96 L384.18 147.46 L384.68 146.97 L385.18 146.48 L385.68 145.99 L386.18 145.5 L386.68 145.01 L387.18 144.52 L387.68 144.03 L388.18 143.54 L388.69 143.05 L389.19 142.56 L389.69 142.07 L390.19 141.59 L390.69 141.1 L391.19 140.62 L391.69 140.13 L392.19 139.65 L392.69 139.18 L393.19 138.7 L393.69 138.23 L394.19 137.77 L394.7 137.32 L395.2 136.88 L395.7 136.47 L396.2 136.11 L396.7 135.82 L397.2 135.66 L397.7 135.68 L398.2 135.87 L398.7 136.18 L399.2 136.55 L399.7 136.97 L400.2 137.4 L400.71 137.86 L401.21 138.32 L401.71 138.79 L402.21 139.26 L402.71 139.74 L403.21 140.22 L403.71 140.7 L404.21 141.18 L404.71 141.67 L405.21 142.15 L405.71 142.64 L406.21 143.13 L406.72 143.62 L407.22 144.11 L407.72 144.59 L408.22 145.08 L408.72 145.57 L409.22 146.06 L409.72 146.55 L410.22 147.05 L410.72 147.54 L411.22 148.03 L411.72 148.52 L412.22 149.01 L412.73 149.5 L413.23 149.99 L413.73 150.48 L414.23 150.98 L414.73 151.47 L415.23 151.96 L415.73 152.45 L416.23 152.94 L416.73 153.44 L417.23 153.93 L417.73 154.42 L418.23 154.91 L418.73 155.41 L419.24 155.9 L419.74 156.39 L420.24 156.88 L420.74 157.37 L421.24 157.87 L421.74 158.36 L422.24 158.85 L422.74 159.35 L423.24 159.84 L423.74 160.33 L424.24 160.82 L424.74 161.32 L425.25 161.81 L425.75 162.3 L426.25 162.79 L426.75 163.29 L427.25 163.78 L427.75 164.27 L428.25 164.77 L428.75 165.26 L429.25 165.75 L429.75 166.24 L430.25 166.74 L430.75 167.23 L431.26 167.72 L431.76 168.22 L432.26 168.71 L432.76 169.2 L433.26 169.69 L433.76 170.19 L434.26 170.68 L434.76 171.17 L435.26 171.67 L435.76 172.16 L436.26 172.65 L436.76 173.15 L437.27 173.64 L437.77 174.13 L438.27 174.63 L438.77 175.12 L439.27 175.61 L439.77 176.1 L440.27 176.6 L440.77 177.09 L441.27 177.58 L441.77 178.08 L442.27 178.57 L442.77 179.06 L443.28 179.56 L443.78 180.05 L444.28 180.54 L444.78 181.04 L445.28 181.53 L445.78 182.02 L446.28 182.51 L446.78 183.01 L447.28 183.5 L447.78 183.99 L448.28 184.49 L448.78 184.98 L449.29 185.47 L449.79 185.97 L450.29 186.46 L450.79 186.95 L451.29 187.45 L451.79 187.94 L452.29 188.43 L452.79 188.93 L453.29 189.42 L453.79 189.91 L454.29 190.41 L454.79 190.9 L455.3 191.39 L455.8 191.88 L456.3 192.38 L456.8 192.87 L457.3 193.36 L457.8 193.86 L458.3 194.35" fill="none" stroke="#0000ff" stroke-width="1.48" stroke-linejoin="round" stroke-linecap="butt" />
</g>
<rect x="334.5" y="109.5" width="126" height="152.5" fill="none" stroke="#585858" stroke-width="1.0"/>
<path d="M334.5 109.5h2.5M334.5 113.86h1.7M334.5 118.21h1.7M334.5 122.57h1.7M334.5 126.93h1.7M334.5 131.29h2.5M334.5 135.64h1.7M334.5 140h1.7M334.5 144.36h1.7M334.5 148.71h1.7M334.5 153.07h2.5M334.5 157.43h1.7M334.5 161.79h1.7M334.5 166.14h1.7M334.5 170.5h1.7M334.5 174.86h2.5M334.5 179.21h1.7M334.5 183.57h1.7M334.5 187.93h1.7M334.5 192.29h1.7M334.5 196.64h2.5M334.5 201h1.7M334.5 205.36h1.7M334.5 209.71h1.7M334.5 214.07h1.7M334.5 218.43h2.5M334.5 222.79h1.7M334.5 227.14h1.7M334.5 231.5h1.7M334.5 235.86h1.7M334.5 240.21h2.5M334.5 244.57h1.7M334.5 248.93h1.7M334.5 253.29h1.7M334.5 257.64h1.7M334.5 262h2.5M339.68 262v-1.7M344.49 262v-1.7M349.3 262v-2.5M354.11 262v-1.7M358.92 262v-1.7M363.73 262v-1.7M368.54 262v-1.7M373.35 262v-2.5M378.16 262v-1.7M382.97 262v-1.7M387.78 262v-1.7M392.59 262v-1.7M397.4 262v-2.5M402.21 262v-1.7M407.02 262v-1.7M411.83 262v-1.7M416.64 262v-1.7M421.45 262v-2.5M426.26 262v-1.7M431.07 262v-1.7M435.88 262v-1.7M440.69 262v-1.7M445.5 262v-2.5M450.31 262v-1.7M455.12 262v-1.7M459.93 262v-1.7" stroke="#585858" stroke-width="0.5" fill="none"/>
<text x="333.2" y="113.1" font-size="10.4" text-anchor="end" fill="#666" font-family='"Liberation Sans", sans-serif' >1</text>
<text x="333.2" y="134.89" font-size="10.4" text-anchor="end" fill="#666" font-family='"Liberation Sans", sans-serif' >0</text>
<text x="333.2" y="156.67" font-size="10.4" text-anchor="end" fill="#666" font-family='"Liberation Sans", sans-serif' ><tspan letter-spacing="0.3">−</tspan>1</text>
<text x="333.2" y="178.46" font-size="10.4" text-anchor="end" fill="#666" font-family='"Liberation Sans", sans-serif' ><tspan letter-spacing="0.3">−</tspan>2</text>
<text x="333.2" y="200.24" font-size="10.4" text-anchor="end" fill="#666" font-family='"Liberation Sans", sans-serif' ><tspan letter-spacing="0.3">−</tspan>3</text>
<text x="333.2" y="222.03" font-size="10.4" text-anchor="end" fill="#666" font-family='"Liberation Sans", sans-serif' ><tspan letter-spacing="0.3">−</tspan>4</text>
<text x="333.2" y="243.81" font-size="10.4" text-anchor="end" fill="#666" font-family='"Liberation Sans", sans-serif' ><tspan letter-spacing="0.3">−</tspan>5</text>
<text x="333.2" y="265.6" font-size="10.4" text-anchor="end" fill="#666" font-family='"Liberation Sans", sans-serif' ><tspan letter-spacing="0.3">−</tspan>6</text>
<text x="349.3" y="272.9" font-size="10.4" text-anchor="middle" fill="#666" font-family='"Liberation Sans", sans-serif' ><tspan letter-spacing="0.8">−</tspan>0.2</text>
<text x="373.35" y="272.9" font-size="10.4" text-anchor="middle" fill="#666" font-family='"Liberation Sans", sans-serif' ><tspan letter-spacing="0.8">−</tspan>0.1</text>
<text x="397.6" y="272.9" font-size="10.4" text-anchor="middle" fill="#666" font-family='"Liberation Sans", sans-serif' >0.0</text>
<text x="421.65" y="272.9" font-size="10.4" text-anchor="middle" fill="#666" font-family='"Liberation Sans", sans-serif' >0.1</text>
<text x="445.7" y="272.9" font-size="10.4" text-anchor="middle" fill="#666" font-family='"Liberation Sans", sans-serif' >0.2</text>
<text x="372.8" y="289.1" font-size="10.4" text-anchor="start" fill="#666" font-family='"Liberation Sans", sans-serif' >(</text>
<text x="375.6" y="289.1" font-size="10.4" text-anchor="start" fill="#666" font-family='"Liberation Sans", sans-serif' >3</text>
<text x="381.15" y="289.1" font-size="10.4" text-anchor="start" fill="#666" font-family='"Liberation Sans", sans-serif' font-style="italic">a</text>
<text x="386.7" y="289.1" font-size="10.4" text-anchor="start" fill="#666" font-family='"Liberation Sans", sans-serif' >/</text>
<text x="390.7" y="289.1" font-size="10.4" text-anchor="start" fill="#666" font-family='"Liberation Sans", sans-serif' >4</text>
<text x="396.3" y="289.1" font-size="10.4" text-anchor="start" fill="#666" font-family='"Liberation Sans", sans-serif' font-style="italic" textLength="6.3" lengthAdjust="spacingAndGlyphs">π</text>
<text x="403.4" y="289.1" font-size="10.4" text-anchor="start" fill="#666" font-family='"Liberation Sans", sans-serif' >)</text>
<text x="407" y="289.1" font-size="10.4" text-anchor="start" fill="#666" font-family='"Liberation Sans", sans-serif' font-style="italic">k</text>
<text x="412.4" y="290" font-size="7.4" text-anchor="start" fill="#888" font-family='"Liberation Sans", sans-serif' >|</text>
<text x="414.4" y="290" font-size="7.4" text-anchor="start" fill="#888" font-family='"Liberation Sans", sans-serif' >|</text>
<text x="416.8" y="290" font-size="8.6" text-anchor="start" fill="#666" font-family='"Liberation Sans", sans-serif' font-style="italic">x</text>
<circle cx="340.3" cy="201.6" r="3.1" fill="#0000ff"/>
<circle cx="340.3" cy="212.9" r="3.1" fill="#ff0000"/>
<text x="346.7" y="203.6" font-size="8.6" fill="#666" font-family='"Liberation Sans", sans-serif'>+<tspan font-style="italic">S</tspan><tspan font-style="italic" font-size="6.9" dy="1.9">y</tspan></text>
<text x="346.7" y="214.9" font-size="8.6" fill="#666" font-family='"Liberation Sans", sans-serif'>−<tspan font-style="italic">S</tspan><tspan font-style="italic" font-size="6.9" dy="1.9">y</tspan></text>
<rect x="420.2" y="195" width="70.8" height="57" fill="#fff"/>
<line x1="452.6" y1="206.6" x2="452.6" y2="241.9" stroke="#e2e2e2" stroke-width="0.6"/>
<path d="M437.5 206.6 L437.9 207.07 L438.31 207.53 L438.71 207.99 L439.11 208.46 L439.51 208.92 L439.92 209.39 L440.32 209.85 L440.72 210.32 L441.12 210.78 L441.53 211.24 L441.93 211.71 L442.33 212.17 L442.73 212.63 L443.14 213.09 L443.54 213.55 L443.94 214.01 L444.35 214.47 L444.75 214.93 L445.15 215.39 L445.55 215.84 L445.96 216.3 L446.36 216.75 L446.76 217.2 L447.16 217.65 L447.57 218.1 L447.97 218.54 L448.37 218.98 L448.77 219.42 L449.18 219.84 L449.58 220.26 L449.98 220.66 L450.39 221.05 L450.79 221.41 L451.19 221.74 L451.59 222.02 L452 222.22 L452.4 222.34 L452.8 222.34 L453.2 222.22 L453.61 222.02 L454.01 221.74 L454.41 221.41 L454.81 221.05 L455.22 220.66 L455.62 220.26 L456.02 219.84 L456.43 219.42 L456.83 218.98 L457.23 218.54 L457.63 218.1 L458.04 217.65 L458.44 217.2 L458.84 216.75 L459.24 216.3 L459.65 215.84 L460.05 215.39 L460.45 214.93 L460.85 214.47 L461.26 214.01 L461.66 213.55 L462.06 213.09 L462.47 212.63 L462.87 212.17 L463.27 211.71 L463.67 211.24 L464.08 210.78 L464.48 210.32 L464.88 209.85 L465.28 209.39 L465.69 208.92 L466.09 208.46 L466.49 207.99 L466.89 207.53 L467.3 207.07 L467.7 206.6" fill="none" stroke="#ff0000" stroke-width="0.85" stroke-linejoin="round" stroke-linecap="butt" opacity="0.8"/>
<path d="M437.5 241.9 L437.9 241.43 L438.31 240.97 L438.71 240.51 L439.11 240.04 L439.51 239.58 L439.92 239.11 L440.32 238.65 L440.72 238.18 L441.12 237.72 L441.53 237.26 L441.93 236.79 L442.33 236.33 L442.73 235.87 L443.14 235.41 L443.54 234.95 L443.94 234.49 L444.35 234.03 L444.75 233.57 L445.15 233.11 L445.55 232.66 L445.96 232.2 L446.36 231.75 L446.76 231.3 L447.16 230.85 L447.57 230.4 L447.97 229.96 L448.37 229.52 L448.77 229.08 L449.18 228.66 L449.58 228.24 L449.98 227.84 L450.39 227.45 L450.79 227.09 L451.19 226.76 L451.59 226.48 L452 226.28 L452.4 226.16 L452.8 226.16 L453.2 226.28 L453.61 226.48 L454.01 226.76 L454.41 227.09 L454.81 227.45 L455.22 227.84 L455.62 228.24 L456.02 228.66 L456.43 229.08 L456.83 229.52 L457.23 229.96 L457.63 230.4 L458.04 230.85 L458.44 231.3 L458.84 231.75 L459.24 232.2 L459.65 232.66 L460.05 233.11 L460.45 233.57 L460.85 234.03 L461.26 234.49 L461.66 234.95 L462.06 235.41 L462.47 235.87 L462.87 236.33 L463.27 236.79 L463.67 237.26 L464.08 237.72 L464.48 238.18 L464.88 238.65 L465.28 239.11 L465.69 239.58 L466.09 240.04 L466.49 240.51 L466.89 240.97 L467.3 241.43 L467.7 241.9" fill="none" stroke="#ff0000" stroke-width="0.75" stroke-linejoin="round" stroke-linecap="butt" opacity="0.6"/>
<rect x="437.5" y="206.6" width="30.2" height="35.3" fill="none" stroke="#444" stroke-width="0.9"/>
<text x="427.2" y="202.2" font-size="5.05" text-anchor="start" fill="#666" font-family='"Liberation Sans", sans-serif' >−0.00035</text>
<text x="452.7" y="202.2" font-size="5.05" text-anchor="middle" fill="#666" font-family='"Liberation Sans", sans-serif' >0</text>
<text x="457.6" y="202.2" font-size="5.05" text-anchor="start" fill="#666" font-family='"Liberation Sans", sans-serif' >0.00035</text>
<text x="427.2" y="248.8" font-size="5.05" text-anchor="start" fill="#666" font-family='"Liberation Sans", sans-serif' >−0.00035</text>
<text x="452.7" y="248.8" font-size="5.05" text-anchor="middle" fill="#666" font-family='"Liberation Sans", sans-serif' >0</text>
<text x="457.6" y="248.8" font-size="5.05" text-anchor="start" fill="#666" font-family='"Liberation Sans", sans-serif' >0.00035</text>
<text x="436.6" y="207.2" font-size="5.05" text-anchor="end" fill="#666" font-family='"Liberation Sans", sans-serif' >−2.796</text>
<text x="469" y="207.2" font-size="5.05" text-anchor="start" fill="#666" font-family='"Liberation Sans", sans-serif' >−2.796</text>
<text x="436.6" y="223.8" font-size="5.05" text-anchor="end" fill="#666" font-family='"Liberation Sans", sans-serif' >−2.8</text>
<text x="469" y="223.8" font-size="5.05" text-anchor="start" fill="#666" font-family='"Liberation Sans", sans-serif' >−2.8</text>
<text x="436.6" y="243.2" font-size="5.05" text-anchor="end" fill="#666" font-family='"Liberation Sans", sans-serif' >−2.805</text>
<text x="469" y="243.2" font-size="5.05" text-anchor="start" fill="#666" font-family='"Liberation Sans", sans-serif' >−2.805</text>
<path d="M452.7 206.4l0 1M452.7 242.4l0 -1M437.4 222.4l1 0M468 222.4l-1 0" stroke="#444" stroke-width="0.5" fill="none"/>
<text x="320" y="101.3" font-size="12.4" text-anchor="start" fill="#000" font-family='"Liberation Serif", serif' >(c)</text>
<text x="337.6" y="101.3" font-size="12.1" text-anchor="start" fill="#000" font-family='"Liberation Sans", sans-serif' font-weight="bold">M</text>
<text x="350.8" y="101.3" font-size="12.1" text-anchor="start" fill="#000" font-family='"Liberation Sans", sans-serif' >||</text>
<text x="360.6" y="101.3" font-size="12.1" text-anchor="start" fill="#000" font-family='"Liberation Sans", sans-serif' font-style="italic">k</text>
<text x="366.4" y="103.3" font-size="9.317" text-anchor="start" fill="#000" font-family='"Liberation Sans", sans-serif' font-style="italic">y</text>
<text x="377.2" y="101.3" font-size="12.1" text-anchor="start" fill="#000" font-family='"Liberation Sans", sans-serif' font-style="italic">λ</text>
<text x="383" y="103.3" font-size="9.317" text-anchor="start" fill="#000" font-family='"Liberation Sans", sans-serif' >XR</text>
<text x="400.3" y="101.3" font-size="12.1" text-anchor="start" fill="#000" font-family='"Liberation Sans", sans-serif' >=</text>
<text x="411" y="101.3" font-size="12.1" text-anchor="start" fill="#000" font-family='"Liberation Sans", sans-serif' >0</text>
<text x="421.6" y="101.3" font-size="12.1" text-anchor="start" fill="#000" font-family='"Liberation Sans", sans-serif' >,</text>
<text x="428.4" y="101.3" font-size="12.1" text-anchor="start" fill="#000" font-family='"Liberation Sans", sans-serif' >Δ</text>
<text x="436.6" y="103.3" font-size="9.317" text-anchor="start" fill="#000" font-family='"Liberation Sans", sans-serif' >ex</text>
<path d="M450.9 95.4h6.3M450.9 98.2h6.3M454.8 93.3L453.4 100.3" stroke="#000" stroke-width="0.95" fill="none"/>
<text x="461.2" y="101.3" font-size="12.1" text-anchor="start" fill="#000" font-family='"Liberation Sans", sans-serif' >0</text>
<path d="M204.8 180.3v-1.7M204.8 120.5v1.7M236.12 180.3v-1.7M236.12 120.5v1.7M267.44 180.3v-1.7M267.44 120.5v1.7M298.76 180.3v-1.7M298.76 120.5v1.7M203.75 180.3h1.7M300.75 180.3h-1.7M203.75 165.34h1.7M300.75 165.34h-1.7M203.75 150.38h1.7M300.75 150.38h-1.7M203.75 135.42h1.7M300.75 135.42h-1.7M203.75 120.46h1.7M300.75 120.46h-1.7" stroke="#585858" stroke-width="0.5" fill="none"/>
<text x="205.4" y="117.2" font-size="8.2" text-anchor="middle" fill="#666" font-family='"Liberation Sans", sans-serif' >0.</text>
<text x="205.4" y="190.5" font-size="8.2" text-anchor="middle" fill="#666" font-family='"Liberation Sans", sans-serif' >0.</text>
<text x="236.12" y="117.2" font-size="8.2" text-anchor="middle" fill="#666" font-family='"Liberation Sans", sans-serif' >0.04</text>
<text x="236.12" y="190.5" font-size="8.2" text-anchor="middle" fill="#666" font-family='"Liberation Sans", sans-serif' >0.04</text>
<text x="267.44" y="117.2" font-size="8.2" text-anchor="middle" fill="#666" font-family='"Liberation Sans", sans-serif' >0.08</text>
<text x="267.44" y="190.5" font-size="8.2" text-anchor="middle" fill="#666" font-family='"Liberation Sans", sans-serif' >0.08</text>
<text x="298.76" y="117.2" font-size="8.2" text-anchor="middle" fill="#666" font-family='"Liberation Sans", sans-serif' >0.12</text>
<text x="298.76" y="190.5" font-size="8.2" text-anchor="middle" fill="#666" font-family='"Liberation Sans", sans-serif' >0.12</text>
<text x="202.35" y="183.25" font-size="8.2" text-anchor="end" fill="#666" font-family='"Liberation Sans", sans-serif' >0.</text>
<text x="302.05" y="183.25" font-size="8.2" text-anchor="start" fill="#666" font-family='"Liberation Sans", sans-serif' >0.</text>
<text x="202.35" y="168.29" font-size="8.2" text-anchor="end" fill="#666" font-family='"Liberation Sans", sans-serif' >0.4</text>
<text x="302.05" y="168.29" font-size="8.2" text-anchor="start" fill="#666" font-family='"Liberation Sans", sans-serif' >0.4</text>
<text x="202.35" y="153.33" font-size="8.2" text-anchor="end" fill="#666" font-family='"Liberation Sans", sans-serif' >0.8</text>
<text x="302.05" y="153.33" font-size="8.2" text-anchor="start" fill="#666" font-family='"Liberation Sans", sans-serif' >0.8</text>
<text x="202.35" y="138.37" font-size="8.2" text-anchor="end" fill="#666" font-family='"Liberation Sans", sans-serif' >1.2</text>
<text x="302.05" y="138.37" font-size="8.2" text-anchor="start" fill="#666" font-family='"Liberation Sans", sans-serif' >1.2</text>
<text x="202.35" y="123.41" font-size="8.2" text-anchor="end" fill="#666" font-family='"Liberation Sans", sans-serif' >1.6</text>
<text x="302.05" y="123.41" font-size="8.2" text-anchor="start" fill="#666" font-family='"Liberation Sans", sans-serif' >1.6</text>
<line x1="223.5" y1="160" x2="236.1" y2="160.2" stroke="#ff0000" stroke-width="0.8" opacity="0.85"/>
<path d="M210.6 159.8 L225.4 155.7 Q223 159.8 225.4 163.9 Z" fill="#ff0000"/>
<circle cx="205.1" cy="180" r="2.05" fill="#ff0000"/>
<circle cx="220.62" cy="169.97" r="2.05" fill="#ff0000"/>
<circle cx="236.13" cy="159.94" r="2.05" fill="#ff0000"/>
<circle cx="251.65" cy="150.28" r="2.05" fill="#ff0000"/>
<circle cx="267.16" cy="140.25" r="2.05" fill="#ff0000"/>
<circle cx="282.68" cy="130.59" r="2.05" fill="#ff0000"/>
<circle cx="298.2" cy="121.3" r="2.05" fill="#ff0000"/>
<rect x="203.75" y="120.5" width="97" height="59.8" fill="none" stroke="#585858" stroke-width="1"/>
<text transform="translate(187.1 190.4) rotate(-90)" font-size="8.35" fill="#666" font-family='"Liberation Sans", sans-serif'>Anticrossign Gap(eV)</text>
<text x="240.8" y="202.6" font-size="8.6" fill="#666" font-family='"Liberation Sans", sans-serif'><tspan font-style="italic">ξ</tspan><tspan font-style="italic" font-size="6.0" dy="1.3" dx="0.2">rl</tspan><tspan dy="-1.3" dx="0.1">(eV)</tspan></text>
<text x="182.6" y="102" font-size="12.4" text-anchor="start" fill="#000" font-family='"Liberation Serif", serif' >(b)</text>
</svg>
</body></html>
